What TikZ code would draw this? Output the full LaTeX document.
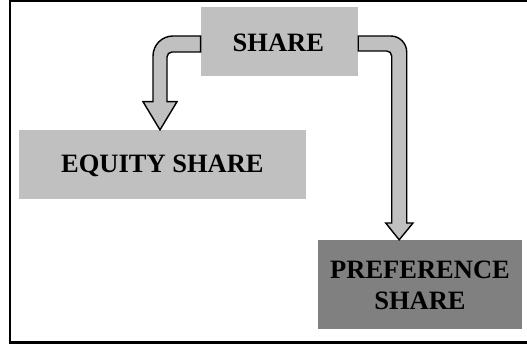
\documentclass[tikz,border=0pt]{standalone}
\usepackage{fontspec}
\setmainfont{Liberation Serif}
\begin{document}
\begin{tikzpicture}[x=1pt,y=1pt,
  boxlight/.style={fill=boxgray,draw=none,inner sep=0pt,font=\bfseries\fontsize{26.5}{30}\selectfont,align=center},
  boxdark/.style={fill=darkgray80,draw=none,inner sep=0pt,font=\bfseries\fontsize{26.5}{30}\selectfont,align=center},
  bentarrow/.style={fill=boxgray,draw=black,line width=1.4pt,line join=miter}]
\definecolor{boxgray}{HTML}{C0C0C0}
\definecolor{darkgray80}{HTML}{808080}
\useasboundingbox (0,0) rectangle (527,347);
% frame
\draw[line width=2.2pt] (530,346) -- (10,346) -- (10,4.5) -- (530,4.5);
% boxes
\node[boxlight,minimum width=157.3pt,minimum height=69pt] (share) at (279.4,305.5) {};
\node[font=\bfseries\fontsize{26.5}{30}\selectfont,inner sep=0pt] (sharet) at (278.3,304.5) {SHARE};
\node[boxlight,minimum width=286.4pt,minimum height=68.7pt] (equity) at (162.5,182.6) {};
\node[font=\bfseries\fontsize{26.5}{30}\selectfont,inner sep=0pt] (equityt) at (162.4,181.5) {EQUITY SHARE};
\node[boxdark,minimum width=204pt,minimum height=89pt] (pref) at (420,62.5) {};
\node[font=\bfseries\fontsize{26.5}{31}\selectfont,inner sep=0pt,align=center] (preft) at (420,62) {PREFERENCE\\SHARE};
% arrows
\draw[bentarrow] (share.west |- 0,311) -- (173,311) arc[start angle=90,end angle=180,radius=20]
  -- (153,245.3) -- (143,245.3) -- (equity.north -| 160,0) -- (177,245.3) -- (167,245.3)
  -- (167,290) arc[start angle=180,end angle=90,radius=5] -- (share.west |- 0,295) -- cycle;
\draw[bentarrow] (share.east |- 0,311) -- (390.7,311) arc[start angle=90,end angle=0,radius=16]
  -- (406.7,124) -- (413,124) -- (pref.north -| 399.2,0) -- (385.7,124) -- (391.7,124)
  -- (391.7,291) arc[start angle=0,end angle=90,radius=5] -- (share.east |- 0,296) -- cycle;
\end{tikzpicture}
\end{document}
